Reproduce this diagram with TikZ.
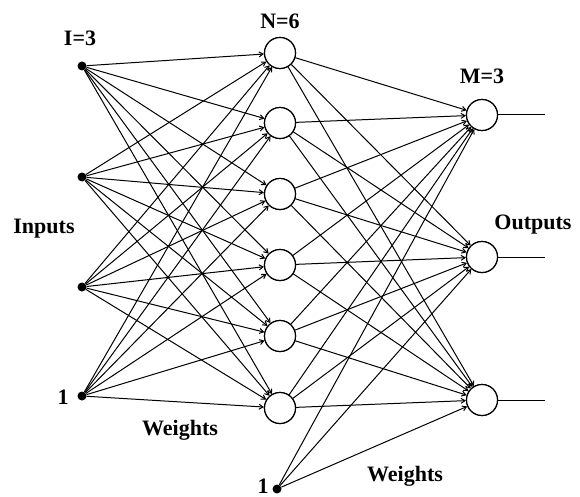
\documentclass[tikz,border=0pt]{standalone}
\usepackage{fontspec}
\setmainfont{Liberation Serif}
\usetikzlibrary{arrows.meta}
\begin{document}
\begin{tikzpicture}[x=1pt,y=-1pt,
  neuron/.style={circle,draw,line width=1.2pt,minimum size=31pt,inner sep=0pt,fill=white},
  inp/.style={circle,fill=black,minimum size=9pt,inner sep=0pt},
  lbl/.style={font=\bfseries\fontsize{22}{24}\selectfont,inner sep=0pt},
  wire/.style={line width=1pt,-{Straight Barb[length=4pt,width=5pt]}},
  plain/.style={line width=1pt}]
\useasboundingbox (0,0) rectangle (580,497);
% inputs
\node[inp] (i1) at (82,66) {};
\node[inp] (i2) at (82,177) {};
\node[inp] (i3) at (82,287) {};
\node[inp] (i4) at (82,396) {};
% hidden
\foreach \k/\y in {1/53,2/123,3/194,4/265,5/336,6/408}{
  \node[neuron] (h\k) at (280,\y) {};
}
% outputs
\node[neuron] (o1) at (482,115) {};
\node[neuron] (o2) at (482,257) {};
\node[neuron] (o3) at (482,400) {};
% bias
\node[inp] (b2) at (277,489) {};
% connections
\foreach \i in {1,2,3,4}{
  \foreach \h in {1,...,6}{
    \draw[wire] (i\i) -- (h\h);
  }
}
\foreach \o in {1,2,3}{
  \foreach \h in {1,...,6}{
    \draw[wire] (h\h) -- (o\o);
  }
  \draw[wire] (b2) -- (o\o);
}
% output lines
\coordinate (e1) at (545,115);
\coordinate (e2) at (545,257);
\coordinate (e3) at (545,400);
\foreach \o in {1,2,3}{ \draw[plain] (o\o) -- (e\o); }
% redraw neurons over lines
\foreach \k/\y in {1/53,2/123,3/194,4/265,5/336,6/408}{
  \node[neuron] at (280,\y) {};
}
\node[neuron] at (482,115) {};
\node[neuron] at (482,257) {};
\node[neuron] at (482,400) {};
% labels
\node[lbl] (tI) at (80,38) {I=3};
\node[lbl] (tN) at (280,21) {N=6};
\node[lbl] (tM) at (482,76) {M=3};
\node[lbl] (tin) at (44,229) {Inputs};
\node[lbl] (tout) at (533,225) {Outputs};
\node[lbl] (tw1) at (180,430) {Weights};
\node[lbl] (tw2) at (405,476) {Weights};
\node[lbl] (t1a) at (63,397) {1};
\node[lbl] (t1b) at (263,486) {1};
\end{tikzpicture}
\end{document}
